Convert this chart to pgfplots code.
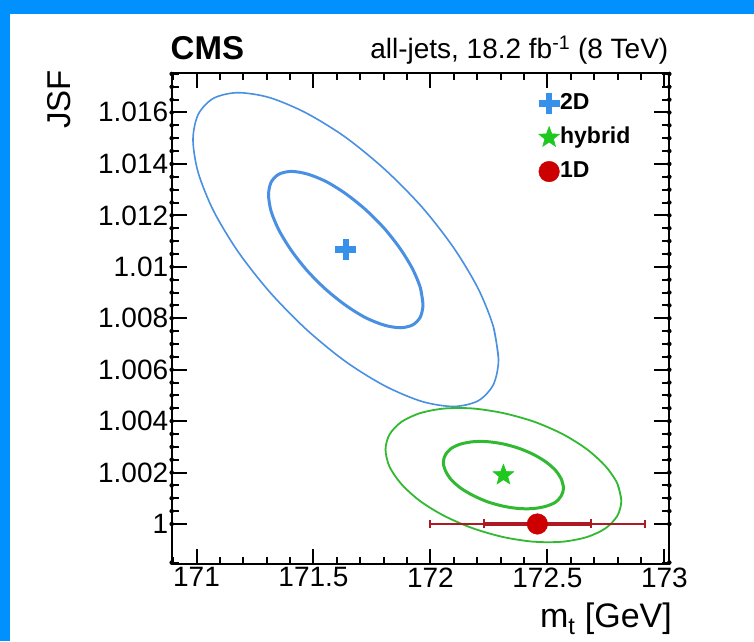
\documentclass[border=0pt]{standalone}
\usepackage{pgfplots}
\pgfplotsset{compat=1.18}
\usepackage{fontspec}
\setmainfont{Liberation Sans}

\definecolor{frameblue}{RGB}{0,145,255}
\definecolor{ellblue}{RGB}{74,144,226}
\definecolor{crossblue}{RGB}{55,145,235}
\definecolor{ellgreen}{RGB}{50,185,50}
\definecolor{stargreen}{RGB}{30,200,30}
\definecolor{dotred}{RGB}{204,0,0}
\definecolor{barred}{RGB}{175,25,35}

% filled five-pointed star marker
\pgfdeclareplotmark{fivestar}{%
  \pgfpathmoveto{\pgfpointpolar{90}{\pgfplotmarksize}}%
  \pgfpathlineto{\pgfpointpolar{126}{0.42\pgfplotmarksize}}%
  \pgfpathlineto{\pgfpointpolar{162}{\pgfplotmarksize}}%
  \pgfpathlineto{\pgfpointpolar{198}{0.42\pgfplotmarksize}}%
  \pgfpathlineto{\pgfpointpolar{234}{\pgfplotmarksize}}%
  \pgfpathlineto{\pgfpointpolar{270}{0.42\pgfplotmarksize}}%
  \pgfpathlineto{\pgfpointpolar{306}{\pgfplotmarksize}}%
  \pgfpathlineto{\pgfpointpolar{342}{0.42\pgfplotmarksize}}%
  \pgfpathlineto{\pgfpointpolar{18}{\pgfplotmarksize}}%
  \pgfpathlineto{\pgfpointpolar{54}{0.42\pgfplotmarksize}}%
  \pgfpathclose
  \pgfusepathqfillstroke
}

% frame tick strokes, drawn as one-sided error bars from the axis edges
\pgfplotsset{
  xticks up/.style={forget plot, only marks, mark=none,
    error bars/.cd, y dir=plus, y explicit, error mark=none,
    error bar style={line width=2pt, black}},
  xticks down/.style={forget plot, only marks, mark=none,
    error bars/.cd, y dir=minus, y explicit, error mark=none,
    error bar style={line width=2pt, black}},
  yticks right/.style={forget plot, only marks, mark=none,
    error bars/.cd, x dir=plus, x explicit, error mark=none,
    error bar style={line width=2pt, black}},
  yticks left/.style={forget plot, only marks, mark=none,
    error bars/.cd, x dir=minus, x explicit, error mark=none,
    error bar style={line width=2pt, black}},
}

\begin{document}
\begin{tikzpicture}
\fill[frameblue] (0pt,0pt) rectangle (754pt,641pt);
\fill[white] (10pt,0pt) rectangle (754pt,627pt);

\begin{axis}[
  at={(171.7pt,77pt)}, anchor=south west,
  scale only axis, width=497.6pt, height=491.3pt,
  % m_t is handled internally relative to 172 GeV,
  % JSF as per-mille offsets from unity
  x coord trafo/.code={\pgfmathparse{#1-172}},
  x coord inv trafo/.code={\pgfmathparse{#1+172}},
  y coord trafo/.code={\pgfmathparse{(#1-1)*1000}},
  y coord inv trafo/.code={\pgfmathparse{#1/1000+1}},
  xmin=170.894, xmax=173.021,
  ymin=0.99844, ymax=1.01755,
  xtick={171,171.5,172,172.5,173},
  xticklabels={171,171.5,172,172.5,173},
  ytick={1,1.002,1.004,1.006,1.008,1.01,1.012,1.014,1.016},
  yticklabels={1,1.002,1.004,1.006,1.008,1.01,1.012,1.014,1.016},
  tick align=inside,
  xtick style={draw=none}, ytick style={draw=none},
  axis line style={line width=2pt, black},
  axis on top,
  tick label style={font=\fontsize{28}{28}\selectfont},
  legend style={at={(0.738,0.959)}, anchor=north west, draw=none, fill=none,
    inner sep=0pt, row sep=13pt,
    font=\bfseries\fontsize{23}{23}\selectfont,
    nodes={inner sep=0pt, text height=16pt, text depth=5pt}},
  legend cell align=left,
  legend image code/.code={%
    \pgfpathrectangle{\pgfpoint{0pt}{-8pt}}{\pgfpoint{21pt}{16pt}}\pgfusepath{}%
    \draw[mark repeat=2,mark phase=2,#1,overlay] plot coordinates {(0pt,0pt)(10pt,0pt)(20pt,0pt)};},
]

% 2D fit: contours
\addplot[forget plot, smooth, line width=1.6pt, color=ellblue] coordinates {
 (172.291,1.00640) (172.269,1.00767) (172.204,1.00915) (172.100,1.01073)
 (171.965,1.01231) (171.807,1.01377) (171.638,1.01503) (171.469,1.01598)
 (171.312,1.01658) (171.176,1.01677) (171.072,1.01655) (171.007,1.01592)
 (170.985,1.01494) (171.007,1.01367) (171.072,1.01219) (171.176,1.01061)
 (171.312,1.00903) (171.469,1.00757) (171.638,1.00631) (171.807,1.00536)
 (171.965,1.00476) (172.100,1.00457) (172.204,1.00479) (172.269,1.00542)
 (172.291,1.00640) (172.269,1.00767)};
\addplot[forget plot, smooth, line width=3pt, color=ellblue] coordinates {
 (171.968,1.00854) (171.957,1.00918) (171.924,1.00991) (171.871,1.01070)
 (171.803,1.01149) (171.723,1.01222) (171.638,1.01284) (171.553,1.01332)
 (171.473,1.01361) (171.405,1.01371) (171.352,1.01360) (171.319,1.01329)
 (171.308,1.01280) (171.319,1.01216) (171.352,1.01143) (171.405,1.01064)
 (171.473,1.00985) (171.553,1.00912) (171.638,1.00850) (171.723,1.00802)
 (171.803,1.00773) (171.871,1.00763) (171.924,1.00774) (171.957,1.00805)
 (171.968,1.00854) (171.957,1.00918)};

% hybrid fit: contours
\addplot[forget plot, smooth, line width=1.8pt, color=ellgreen] coordinates {
 (172.816,1.00091) (172.799,1.00157) (172.748,1.00225) (172.668,1.00291)
 (172.564,1.00350) (172.442,1.00398) (172.312,1.00431) (172.182,1.00449)
 (172.060,1.00449) (171.956,1.00431) (171.876,1.00397) (171.825,1.00348)
 (171.808,1.00289) (171.825,1.00223) (171.876,1.00155) (171.956,1.00089)
 (172.060,1.00031) (172.182,0.99983) (172.312,0.99949) (172.442,0.99931)
 (172.564,0.99931) (172.668,0.99949) (172.748,0.99983) (172.799,1.00032)
 (172.816,1.00091) (172.799,1.00157)};
\addplot[forget plot, smooth, line width=3pt, color=ellgreen] coordinates {
 (172.569,1.00140) (172.560,1.00173) (172.535,1.00208) (172.494,1.00241)
 (172.441,1.00270) (172.379,1.00294) (172.312,1.00311) (172.245,1.00320)
 (172.184,1.00320) (172.130,1.00311) (172.089,1.00294) (172.064,1.00269)
 (172.055,1.00240) (172.064,1.00207) (172.089,1.00172) (172.130,1.00139)
 (172.184,1.00110) (172.245,1.00086) (172.312,1.00069) (172.379,1.00060)
 (172.441,1.00060) (172.494,1.00069) (172.535,1.00085) (172.560,1.00111)
 (172.569,1.00140) (172.560,1.00173)};

% 1D fit: total uncertainty
\addplot[forget plot, only marks, mark=none,
  error bars/.cd, x dir=both, x explicit, error mark=|,
  error bar style={line width=1.6pt, color=barred},
  error mark options={line width=1.6pt, color=barred, mark size=4pt}]
  coordinates {(172.457,1.000) +- (0.46,0)};

% best-fit points
\addplot[only marks, mark=+, mark size=10.5pt, line width=6.5pt, color=crossblue]
  coordinates {(171.638,1.01067)};
\addlegendentry{2D}
\addplot[only marks, mark=fivestar, mark size=10.9pt, color=stargreen,
  mark options={fill=stargreen, draw=stargreen, line width=0.5pt}]
  coordinates {(172.312,1.0019)};
\addlegendentry{hybrid}
\addplot[only marks, mark=*, mark size=10.3pt, color=dotred,
  mark options={fill=dotred, draw=dotred},
  error bars/.cd, x dir=both, x explicit, error mark=|,
  error bar style={line width=4.5pt, color=barred},
  error mark options={line width=2pt, color=barred, mark size=4.5pt}]
  coordinates {(172.457,1.000) +- (0.23,0)};
\addlegendentry{1D}

% frame ticks: bottom edge (lengths in the internal per-mille JSF scale:
% 0.583 = 15pt major, 0.292 = 7.5pt minor)
\addplot[xticks up] coordinates {
 (171,0.99844) +- (0,0.583) (171.5,0.99844) +- (0,0.583)
 (172,0.99844) +- (0,0.583) (172.5,0.99844) +- (0,0.583)
 (173,0.99844) +- (0,0.583)
 (170.9,0.99844) +- (0,0.292) (171.1,0.99844) +- (0,0.292)
 (171.2,0.99844) +- (0,0.292) (171.3,0.99844) +- (0,0.292)
 (171.4,0.99844) +- (0,0.292) (171.6,0.99844) +- (0,0.292)
 (171.7,0.99844) +- (0,0.292) (171.8,0.99844) +- (0,0.292)
 (171.9,0.99844) +- (0,0.292) (172.1,0.99844) +- (0,0.292)
 (172.2,0.99844) +- (0,0.292) (172.3,0.99844) +- (0,0.292)
 (172.4,0.99844) +- (0,0.292) (172.6,0.99844) +- (0,0.292)
 (172.7,0.99844) +- (0,0.292) (172.8,0.99844) +- (0,0.292)
 (172.9,0.99844) +- (0,0.292)};
% top edge
\addplot[xticks down] coordinates {
 (171,1.01755) +- (0,0.583) (171.5,1.01755) +- (0,0.583)
 (172,1.01755) +- (0,0.583) (172.5,1.01755) +- (0,0.583)
 (173,1.01755) +- (0,0.583)
 (170.9,1.01755) +- (0,0.292) (171.1,1.01755) +- (0,0.292)
 (171.2,1.01755) +- (0,0.292) (171.3,1.01755) +- (0,0.292)
 (171.4,1.01755) +- (0,0.292) (171.6,1.01755) +- (0,0.292)
 (171.7,1.01755) +- (0,0.292) (171.8,1.01755) +- (0,0.292)
 (171.9,1.01755) +- (0,0.292) (172.1,1.01755) +- (0,0.292)
 (172.2,1.01755) +- (0,0.292) (172.3,1.01755) +- (0,0.292)
 (172.4,1.01755) +- (0,0.292) (172.6,1.01755) +- (0,0.292)
 (172.7,1.01755) +- (0,0.292) (172.8,1.01755) +- (0,0.292)
 (172.9,1.01755) +- (0,0.292)};
% left edge
\addplot[yticks right] coordinates {
 (170.894,1.000) +- (0.0641,0) (170.894,1.002) +- (0.0641,0)
 (170.894,1.004) +- (0.0641,0) (170.894,1.006) +- (0.0641,0)
 (170.894,1.008) +- (0.0641,0) (170.894,1.010) +- (0.0641,0)
 (170.894,1.012) +- (0.0641,0) (170.894,1.014) +- (0.0641,0)
 (170.894,1.016) +- (0.0641,0)
 (170.894,0.9985) +- (0.032,0) (170.894,1.0005) +- (0.032,0)
 (170.894,1.0010) +- (0.032,0) (170.894,1.0015) +- (0.032,0)
 (170.894,1.0025) +- (0.032,0) (170.894,1.0030) +- (0.032,0)
 (170.894,1.0035) +- (0.032,0) (170.894,1.0045) +- (0.032,0)
 (170.894,1.0050) +- (0.032,0) (170.894,1.0055) +- (0.032,0)
 (170.894,1.0065) +- (0.032,0) (170.894,1.0070) +- (0.032,0)
 (170.894,1.0075) +- (0.032,0) (170.894,1.0085) +- (0.032,0)
 (170.894,1.0090) +- (0.032,0) (170.894,1.0095) +- (0.032,0)
 (170.894,1.0105) +- (0.032,0) (170.894,1.0110) +- (0.032,0)
 (170.894,1.0115) +- (0.032,0) (170.894,1.0125) +- (0.032,0)
 (170.894,1.0130) +- (0.032,0) (170.894,1.0135) +- (0.032,0)
 (170.894,1.0145) +- (0.032,0) (170.894,1.0150) +- (0.032,0)
 (170.894,1.0155) +- (0.032,0) (170.894,1.0165) +- (0.032,0)
 (170.894,1.0170) +- (0.032,0) (170.894,1.0175) +- (0.032,0)};
% right edge
\addplot[yticks left] coordinates {
 (173.021,1.000) +- (0.0641,0) (173.021,1.002) +- (0.0641,0)
 (173.021,1.004) +- (0.0641,0) (173.021,1.006) +- (0.0641,0)
 (173.021,1.008) +- (0.0641,0) (173.021,1.010) +- (0.0641,0)
 (173.021,1.012) +- (0.0641,0) (173.021,1.014) +- (0.0641,0)
 (173.021,1.016) +- (0.0641,0)
 (173.021,0.9985) +- (0.032,0) (173.021,1.0005) +- (0.032,0)
 (173.021,1.0010) +- (0.032,0) (173.021,1.0015) +- (0.032,0)
 (173.021,1.0025) +- (0.032,0) (173.021,1.0030) +- (0.032,0)
 (173.021,1.0035) +- (0.032,0) (173.021,1.0045) +- (0.032,0)
 (173.021,1.0050) +- (0.032,0) (173.021,1.0055) +- (0.032,0)
 (173.021,1.0065) +- (0.032,0) (173.021,1.0070) +- (0.032,0)
 (173.021,1.0075) +- (0.032,0) (173.021,1.0085) +- (0.032,0)
 (173.021,1.0090) +- (0.032,0) (173.021,1.0095) +- (0.032,0)
 (173.021,1.0105) +- (0.032,0) (173.021,1.0110) +- (0.032,0)
 (173.021,1.0115) +- (0.032,0) (173.021,1.0125) +- (0.032,0)
 (173.021,1.0130) +- (0.032,0) (173.021,1.0135) +- (0.032,0)
 (173.021,1.0145) +- (0.032,0) (173.021,1.0150) +- (0.032,0)
 (173.021,1.0155) +- (0.032,0) (173.021,1.0165) +- (0.032,0)
 (173.021,1.0170) +- (0.032,0) (173.021,1.0175) +- (0.032,0)};
\end{axis}

\node[anchor=base west, inner sep=0pt, font=\bfseries\fontsize{33}{33}\selectfont]
  at (170.5pt,581pt) {CMS};
\node[anchor=base east, inner sep=0pt, font=\fontsize{28}{28}\selectfont]
  at (668.5pt,582pt) {all-jets, 18.2 fb\textsuperscript{-1} (8 TeV)};
\node[rotate=90, anchor=base east, inner sep=0pt, font=\fontsize{33}{33}\selectfont]
  at (70pt,571pt) {JSF};
\node[anchor=base east, inner sep=0pt, font=\fontsize{34}{34}\selectfont]
  at (672pt,13.5pt) {m\textsubscript{t} [GeV]};
\end{tikzpicture}
\end{document}
